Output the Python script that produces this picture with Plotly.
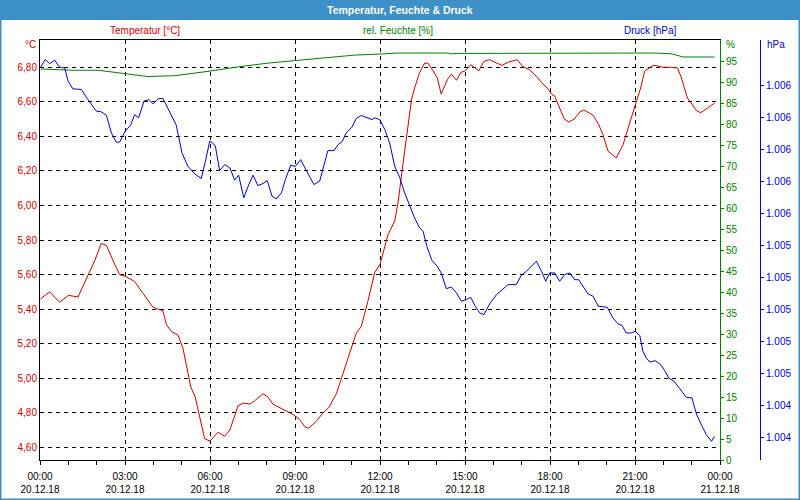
import pandas as pd
import plotly.graph_objects as go

# ---------------- data ----------------
base_day = "2018-12-20"

temp_hours = [0.02, 0.34, 0.69, 1.01, 1.34, 1.69, 1.93, 2.16, 2.34, 2.58, 2.81, 3.01, 3.34, 3.64,
              3.99, 4.34, 4.46, 4.64, 4.87, 5.05, 5.32, 5.48, 5.67, 5.81, 6.00, 6.14, 6.28, 6.52,
              6.70, 6.99, 7.17, 7.40, 7.58, 7.87, 8.05, 8.22, 8.58, 8.93, 9.17, 9.34, 9.48, 9.75,
              9.99, 10.19, 10.46, 10.75, 11.05, 11.16, 11.34, 11.55, 11.81, 12.00, 12.14, 12.28,
              12.52, 12.64, 12.81, 12.95, 13.11, 13.22, 13.40, 13.58, 13.70, 13.87, 14.02, 14.16,
              14.38, 14.52, 14.70, 14.85, 15.01, 15.20, 15.34, 15.49, 15.67, 15.87, 16.11, 16.31,
              16.52, 16.85, 17.02, 17.28, 17.52, 17.75, 17.93, 18.05, 18.17, 18.34, 18.50, 18.66,
              18.85, 19.05, 19.20, 19.52, 19.72, 19.87, 20.05, 20.34, 20.58, 20.81, 21.01, 21.20,
              21.34, 21.58, 21.70, 21.99, 22.28, 22.50, 22.64, 22.85, 23.01, 23.17, 23.32, 23.52,
              23.81]
temperature = [5.46, 5.50, 5.44, 5.48, 5.47, 5.60, 5.68, 5.78, 5.77, 5.68, 5.60, 5.59, 5.56, 5.49,
               5.41, 5.39, 5.31, 5.27, 5.25, 5.17, 4.95, 4.89, 4.75, 4.65, 4.636, 4.665, 4.687, 4.664,
               4.70, 4.84, 4.856, 4.85, 4.87, 4.91, 4.89, 4.85, 4.82, 4.79, 4.76, 4.72, 4.71, 4.75,
               4.80, 4.83, 4.91, 5.06, 5.21, 5.26, 5.30, 5.43, 5.61, 5.66, 5.744, 5.83,
               5.91, 6.02, 6.24, 6.41, 6.61, 6.68, 6.77, 6.825, 6.823, 6.78, 6.74, 6.645,
               6.73, 6.76, 6.725, 6.77, 6.78, 6.815, 6.796, 6.78, 6.835, 6.844, 6.825, 6.811,
               6.83, 6.844, 6.806, 6.786, 6.748, 6.703, 6.676, 6.645, 6.632, 6.564, 6.502, 6.483,
               6.499, 6.541, 6.553, 6.522, 6.468, 6.41, 6.314, 6.275, 6.352, 6.477, 6.583, 6.68,
               6.777, 6.806, 6.811, 6.80, 6.80, 6.796, 6.738, 6.622, 6.587, 6.549, 6.537, 6.56,
               6.593]

hum_hours = [0.02, 1.11, 2.05, 2.87, 3.34, 3.81, 4.75, 5.34, 6.00, 6.99, 8.05, 9.01, 10.05, 11.10,
             12.14, 12.60, 14.40, 14.50, 14.70, 16.00, 16.50, 18.00, 18.60, 21.70, 22.30, 22.60,
             22.70, 23.81]
humidity = [93.1, 92.8, 92.8, 92.1, 91.6, 91.3, 91.5, 92.0, 92.6, 93.6, 94.5, 95.1, 95.7, 96.4,
            96.7, 96.9, 96.9, 96.7, 96.8, 96.8, 96.9, 96.8, 96.9, 96.9, 96.7, 96.2,
            95.95, 95.95]

pres_hours = [0.02, 0.19, 0.34, 0.52, 0.66, 0.75, 0.87, 0.99, 1.16, 1.46, 1.69, 1.99, 2.16, 2.34,
              2.52, 2.69, 2.81, 3.01, 3.20, 3.34, 3.48, 3.67, 3.84, 3.99, 4.19, 4.34, 4.52, 4.81,
              5.01, 5.22, 5.46, 5.69, 5.84, 5.99, 6.08, 6.19, 6.34, 6.52, 6.70, 6.87, 7.01, 7.19,
              7.37, 7.52, 7.69, 7.87, 8.02, 8.19, 8.34, 8.52, 8.66, 8.85, 9.01, 9.20, 9.40, 9.67,
              9.87, 9.99, 10.16, 10.38, 10.52, 10.66, 10.81, 11.01, 11.16, 11.34, 11.55, 11.72,
              11.81, 11.99, 12.17, 12.34, 12.52, 12.70, 12.87, 13.05, 13.22, 13.40, 13.52, 13.67,
              13.84, 14.02, 14.16, 14.34, 14.52, 14.70, 14.87, 15.05, 15.20, 15.36, 15.52, 15.67,
              15.87, 16.11, 16.34, 16.52, 16.81, 16.99, 17.17, 17.34, 17.52, 17.70, 17.85, 17.99,
              18.17, 18.34, 18.52, 18.70, 18.87, 19.01, 19.17, 19.34, 19.52, 19.70, 20.02, 20.22,
              20.40, 20.54, 20.69, 20.87, 21.01, 21.17, 21.28, 21.40, 21.52, 21.72, 21.91, 22.05,
              22.19, 22.38, 22.58, 22.81, 23.01, 23.17, 23.34, 23.52, 23.70, 23.81]
pressure = [1.006518, 1.006566, 1.006539, 1.006562, 1.006524, 1.006514, 1.006514, 1.006430,
            1.006382, 1.006378, 1.006315, 1.006242, 1.006238, 1.006217, 1.006106, 1.006048,
            1.006048, 1.006117, 1.006154, 1.006221, 1.006200, 1.006305, 1.006315, 1.006288,
            1.006321, 1.006321, 1.006258, 1.006154, 1.005981, 1.005897, 1.005849, 1.005820,
            1.005929, 1.006054, 1.006045, 1.006023, 1.005870, 1.005907, 1.005887, 1.005810,
            1.005841, 1.005699, 1.005782, 1.005841, 1.005776, 1.005788, 1.005807, 1.005709,
            1.005692, 1.005730, 1.005813, 1.005904, 1.005895, 1.005939, 1.005870, 1.005782,
            1.005803, 1.005887, 1.005995, 1.005995, 1.006033, 1.006050, 1.006106, 1.006142,
            1.006196, 1.006215, 1.006200, 1.006189, 1.006200, 1.006189, 1.006127, 1.006043,
            1.005897, 1.005824, 1.005730, 1.005646, 1.005573, 1.005510, 1.005490, 1.005385,
            1.005305, 1.005270, 1.005228, 1.005130, 1.005140, 1.005103, 1.005051, 1.005061,
            1.005076, 1.005020, 1.004977, 1.004967, 1.005034, 1.005092, 1.005124, 1.005155,
            1.005155, 1.005214, 1.005239, 1.005272, 1.005302, 1.005239, 1.005176, 1.005228,
            1.005228, 1.005176, 1.005218, 1.005228, 1.005186, 1.005186, 1.005145, 1.005097,
            1.005082, 1.005020, 1.005013, 1.004946, 1.004909, 1.004900, 1.004852, 1.004852,
            1.004863, 1.004835, 1.004737, 1.004695, 1.004670, 1.004678, 1.004653, 1.004616,
            1.004570, 1.004549, 1.004503, 1.004449, 1.004445, 1.004344, 1.004277, 1.004214,
            1.004173, 1.004204]

x_tick_hours = [0, 3, 6, 9, 12, 15, 18, 21, 24]
x_tick_labels = ["00:00<br>20.12.18", "03:00<br>20.12.18", "06:00<br>20.12.18",
                 "09:00<br>20.12.18", "12:00<br>20.12.18", "15:00<br>20.12.18",
                 "18:00<br>20.12.18", "21:00<br>20.12.18", "00:00<br>21.12.18"]
temp_ticks = [4.6, 4.8, 5.0, 5.2, 5.4, 5.6, 5.8, 6.0, 6.2, 6.4, 6.6, 6.8]
temp_tick_labels = ["4,60", "4,80", "5,00", "5,20", "5,40", "5,60", "5,80", "6,00",
                    "6,20", "6,40", "6,60", "6,80"]
hum_ticks = list(range(0, 100, 5))
pres_ticks = [1.0042, 1.0044, 1.0046, 1.0048, 1.0050, 1.0052, 1.0054, 1.0056,
              1.0058, 1.0060, 1.0062, 1.0064]

title_text = "Temperatur, Feuchte & Druck"

# ---------------- figure ----------------
t0 = pd.Timestamp(base_day)


def to_time(hours):
    return t0 + pd.to_timedelta(hours, unit="h")


RED = "#d40000"
GREEN = "#008000"
BLUE = "#0000cc"
BAR = "#3d90c8"
FONT = "Liberation Sans"

fig = go.Figure()
fig.add_trace(go.Scatter(x=to_time(temp_hours), y=temperature, mode="lines",
                         line=dict(color="#cc0000", width=1), yaxis="y", name="Temperatur"))
fig.add_trace(go.Scatter(x=to_time(hum_hours), y=humidity, mode="lines",
                         line=dict(color=GREEN, width=1), yaxis="y2", name="rel. Feuchte"))
fig.add_trace(go.Scatter(x=to_time(pres_hours), y=pressure, mode="lines",
                         line=dict(color=BLUE, width=1), yaxis="y3", name="Druck"))

W, H = 800, 500
ML, MR, MT, MB = 40, 40, 40, 40
PW, PH = W - ML - MR, H - MT - MB


def px(xp):
    return (xp - ML) / PW


def py(yp):
    return 1 - (yp - MT) / PH


dash = "4px,4px"
fig.update_layout(
    width=W, height=H, margin=dict(l=ML, r=MR, t=MT, b=MB, autoexpand=False),
    paper_bgcolor="white", plot_bgcolor="white", showlegend=False,
    font=dict(family=FONT, size=10, color="black"),
    xaxis=dict(
        type="date", domain=[0, px(720)], automargin=False,
        range=[to_time(0), to_time(24)],
        tickmode="array", tickvals=to_time(x_tick_hours), ticktext=x_tick_labels,
        ticks="outside", ticklen=4, tickcolor="black", tickwidth=1, ticklabelstandoff=3,
        showline=True, linecolor="black", linewidth=1, mirror=True,
        showgrid=True, gridcolor="black", gridwidth=1, griddash=dash,
        zeroline=False, tickfont=dict(size=10, color="black"),
        minor=dict(tickmode="linear", tick0=to_time(0), dtick=3600000,
                   ticks="outside", ticklen=4, tickcolor="black", showgrid=False),
    ),
    yaxis=dict(
        range=[4.5265, 6.958], tickmode="array", tickvals=temp_ticks, ticktext=temp_tick_labels,
        ticks="", showline=True, linecolor="black", linewidth=1, automargin=False,
        showgrid=True, gridcolor="black", gridwidth=1, griddash=dash,
        zeroline=False, tickfont=dict(size=10, color=RED),
    ),
    yaxis2=dict(
        overlaying="y", side="right", anchor="x", range=[0, 100], automargin=False,
        tickmode="array", tickvals=hum_ticks,
        ticks="outside", ticklen=3, tickcolor=GREEN,
        showline=True, linecolor=GREEN, linewidth=1,
        showgrid=False, zeroline=False, tickfont=dict(size=10, color=GREEN),
    ),
    yaxis3=dict(
        overlaying="y", side="right", anchor="free", position=1.0, automargin=False,
        range=[1.004056, 1.006688], tickmode="array", tickvals=pres_ticks, tickformat=".3f",
        ticks="outside", ticklen=3, tickcolor=BLUE,
        showline=True, linecolor=BLUE, linewidth=1,
        showgrid=False, zeroline=False, tickfont=dict(size=10, color=BLUE),
    ),
    shapes=[
        dict(type="rect", xref="paper", yref="paper", layer="below",
             x0=px(0), x1=px(800), y0=py(20), y1=py(0),
             fillcolor=BAR, line=dict(width=0)),
        dict(type="rect", xref="paper", yref="paper", layer="above",
             x0=px(0.75), x1=px(799.25), y0=py(499.25), y1=py(19),
             fillcolor="rgba(0,0,0,0)", line=dict(color=BAR, width=1.5)),
    ],
    annotations=[
        dict(text="<b>" + title_text + "</b>", xref="paper", yref="paper",
             x=px(400), y=py(9.5), xanchor="center", yanchor="middle", showarrow=False,
             font=dict(size=10.5, color="white", family=FONT)),
        dict(text="Temperatur [°C]", xref="paper", yref="paper", x=px(145), y=py(30),
             xanchor="center", yanchor="middle", showarrow=False, font=dict(size=10, color=RED)),
        dict(text="rel. Feuchte [%]", xref="paper", yref="paper", x=px(398), y=py(30),
             xanchor="center", yanchor="middle", showarrow=False, font=dict(size=10, color=GREEN)),
        dict(text="Druck [hPa]", xref="paper", yref="paper", x=px(650), y=py(30),
             xanchor="center", yanchor="middle", showarrow=False, font=dict(size=10, color=BLUE)),
        dict(text="°C", xref="paper", yref="paper", x=px(38), y=py(45),
             xanchor="right", yanchor="middle", showarrow=False, font=dict(size=10, color=RED)),
        dict(text="%", xref="paper", yref="paper", x=px(724), y=py(45),
             xanchor="left", yanchor="middle", showarrow=False, font=dict(size=10, color=GREEN)),
        dict(text="hPa", xref="paper", yref="paper", x=px(765), y=py(45),
             xanchor="left", yanchor="middle", showarrow=False, font=dict(size=10, color=BLUE)),
    ],
)

fig.write_html("out.html", config={"displayModeBar": False})
